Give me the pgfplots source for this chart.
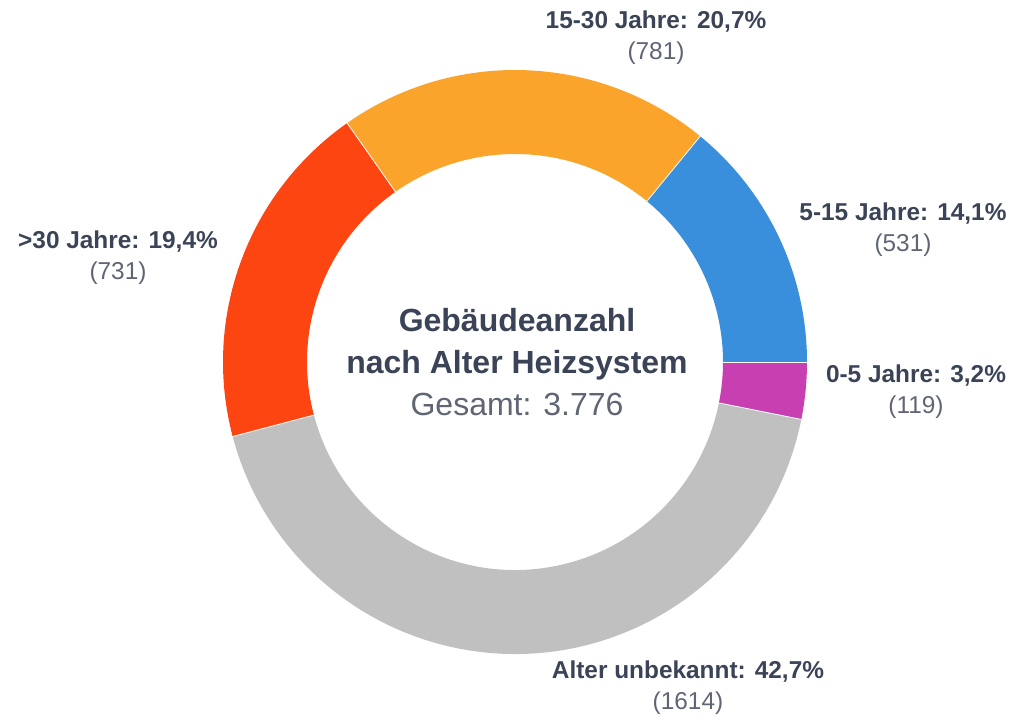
\documentclass[border=0pt]{standalone}
\usepackage{pgfplots}
\pgfplotsset{compat=1.18}
\usepackage{pgfplotstable}
\usepackage{fontspec}
\setmainfont{Liberation Sans}
\definecolor{cPurple}{HTML}{C83FB2}
\definecolor{cGrey}{HTML}{C0C0C0}
\definecolor{cRed}{HTML}{FC4511}
\definecolor{cOrange}{HTML}{FBA42C}
\definecolor{cBlue}{HTML}{3A8FDC}
\definecolor{txt}{HTML}{3B4356}
\definecolor{txtl}{HTML}{5F6573}
\pgfplotstableread{
label value
p 119
g 1614
r 731
o 781
b 531
}\data
\newcommand\ring[3]{%
 \fill[#3] (axis cs:{515+292*cos(#1)},{358+292*sin(#1)}) arc[start angle=#1,end angle=#2,radius=146pt]
   -- (axis cs:{515+208*cos(#2)},{358+208*sin(#2)}) arc[start angle=#2,end angle=#1,radius=104pt] -- cycle;
 \draw[white,line width=0.4pt] (axis cs:{515+208*cos(#1)},{358+208*sin(#1)}) -- (axis cs:{515+292*cos(#1)},{358+292*sin(#1)});}
\begin{document}
\begin{tikzpicture}
\pgfplotstablegetelem{0}{value}\of\data \pgfmathsetmacro\vA{\pgfplotsretval}
\pgfplotstablegetelem{1}{value}\of\data \pgfmathsetmacro\vB{\pgfplotsretval}
\pgfplotstablegetelem{2}{value}\of\data \pgfmathsetmacro\vC{\pgfplotsretval}
\pgfplotstablegetelem{3}{value}\of\data \pgfmathsetmacro\vD{\pgfplotsretval}
\pgfplotstablegetelem{4}{value}\of\data \pgfmathsetmacro\vE{\pgfplotsretval}
\pgfmathsetmacro\tot{\vA+\vB+\vC+\vD+\vE}
\pgfmathsetmacro\aA{-360*(\vA/\tot)}
\pgfmathsetmacro\aB{\aA-360*(\vB/\tot)}
\pgfmathsetmacro\aC{\aB-360*(\vC/\tot)}
\pgfmathsetmacro\aD{\aC-360*(\vD/\tot)}
\begin{axis}[x=0.5pt,y=0.5pt,xmin=0,xmax=1017,ymin=0,ymax=720,hide axis,clip=false]
\path (axis cs:0,0) rectangle (axis cs:1017,720);
\ring{0}{\aA}{cPurple}
\ring{\aA}{\aB}{cGrey}
\ring{\aB}{\aC}{cRed}
\ring{\aC}{\aD}{cOrange}
\ring{\aD}{-360}{cBlue}
\tikzset{lab/.style={align=center,font=\fontsize{12.2}{15.5}\selectfont}}
\node[lab] at (axis cs:656,682) {\textcolor{txt}{\bfseries 15-30 Jahre: 20,7\%}\\\textcolor{txtl}{(781)}};
\node[lab] at (axis cs:118,462) {\textcolor{txt}{\bfseries >30 Jahre: 19,4\%}\\\textcolor{txtl}{(731)}};
\node[lab] at (axis cs:903,490) {\textcolor{txt}{\bfseries 5-15 Jahre: 14,1\%}\\\textcolor{txtl}{(531)}};
\node[lab] at (axis cs:916,328) {\textcolor{txt}{\bfseries 0-5 Jahre: 3,2\%}\\\textcolor{txtl}{(119)}};
\node[lab] at (axis cs:688,32) {\textcolor{txt}{\bfseries Alter unbekannt: 42,7\%}\\\textcolor{txtl}{(1614)}};
\node[align=center,font=\fontsize{16}{21}\selectfont] at (axis cs:517,358) {\textcolor{txt}{\bfseries Gebäudeanzahl}\\\textcolor{txt}{\bfseries nach Alter Heizsystem}\\\textcolor{txtl}{Gesamt: 3.776}};
\end{axis}
\end{tikzpicture}
\end{document}
